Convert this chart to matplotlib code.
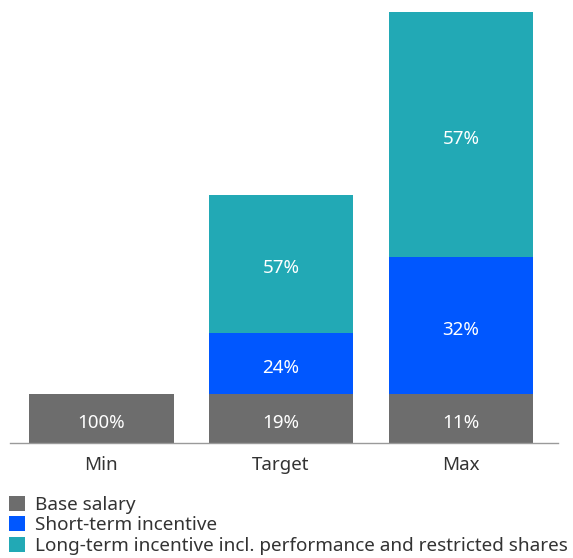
import matplotlib.pyplot as plt
from matplotlib.patches import Patch

# Datos (en múltiplos del salario base)
categorias = ["Min", "Target", "Max"]
base = [1.0, 1.0, 1.0]
corto_plazo = [0.0, 1.25, 2.8]
largo_plazo = [0.0, 2.82, 5.02]

etiq_base = ["100%", "19%", "11%"]
etiq_corto = ["", "24%", "32%"]
etiq_largo = ["", "57%", "57%"]

nombres = ["Base salary", "Short-term incentive",
           "Long-term incentive incl. performance and restricted shares"]
colores = ["#6d6d6d", "#0057ff", "#22a9b5"]

plt.rcParams['font.family'] = ['Noto Sans', 'DejaVu Sans']

fig = plt.figure(figsize=(5.73, 5.58), dpi=100)
ax = fig.add_axes([10 / 573, 1 - 443 / 558, 548 / 573, (443 - 12) / 558])

x = list(range(len(categorias)))
ancho = 0.805
fondo = [0.0] * len(x)
for valores, etiquetas, color in zip([base, corto_plazo, largo_plazo],
                                     [etiq_base, etiq_corto, etiq_largo], colores):
    ax.bar(x, valores, ancho, bottom=fondo, color=color, edgecolor="none")
    for i, (v, t) in enumerate(zip(valores, etiquetas)):
        if v > 0 and t:
            ax.annotate(t, (x[i], fondo[i] + v / 2), xytext=(0, -3),
                        textcoords="offset points", ha="center", va="center",
                        color="white", fontsize=13.5)
    fondo = [f + v for f, v in zip(fondo, valores)]

ax.set_xlim(-0.506, 2.539)
ax.set_ylim(0, max(fondo))
ax.set_xticks(x)
ax.set_xticklabels(categorias, fontsize=13.5, color="#333333")
ax.tick_params(axis="x", length=0, pad=9.5)
ax.set_yticks([])
for lado in ["top", "right", "left"]:
    ax.spines[lado].set_visible(False)
ax.spines["bottom"].set_color("#9a9a9a")
ax.spines["bottom"].set_linewidth(1)

handles = [Patch(facecolor=c, edgecolor="none") for c in colores]
fig.legend(handles, nombres, loc="upper left", bbox_to_anchor=(9 / 573, 1 - 496 / 558),
           frameon=False, fontsize=13.6, handlelength=0.85, handleheight=0.85,
           handletextpad=0.55, labelspacing=0.12, borderpad=0, borderaxespad=0,
           labelcolor="#333333")

fig.savefig("out.png", dpi=100)
